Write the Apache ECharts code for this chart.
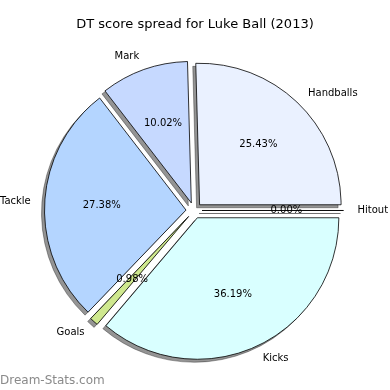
<!DOCTYPE html>
<html>
<head>
<meta charset="utf-8">
<script src="https://cdn.jsdelivr.net/npm/echarts@6/dist/echarts.min.js"></script>
<style>html,body{margin:0;padding:0;background:#fff}#c{width:390px;height:390px}</style>
</head>
<body>
<div id="c"></div>
<script>
const categories = ['Handballs', 'Hitout', 'Kicks', 'Goals', 'Tackle', 'Mark'];
const percents = [25.43, 0.00, 36.19, 0.98, 27.38, 10.02];
const colors = ['#eaf1ff', '#d6f7ff', '#d9ffff', '#cfe88e', '#b4d5ff', '#c6d9ff'];

const chart = echarts.init(document.getElementById('c'), null, {renderer: 'canvas'});
const CX = 194, CY = 210.5, R = 141.5, OFF = 8, START = 91.55;
const font = 'DejaVu Sans';

const pieData = categories.map((n, i) => ({
  name: n, value: percents[i], selected: true,
  itemStyle: {color: colors[i]}
}));
const plainData = categories.map((n, i) => ({
  name: n, value: percents[i], selected: true
}));

const common = {
  type: 'pie', startAngle: START, clockwise: true,
  selectedMode: 'multiple', selectedOffset: OFF,
  avoidLabelOverlap: false, silent: true,
  emphasis: {disabled: true}
};

chart.setOption({
  animation: false,
  backgroundColor: '#fff',
  title: {
    text: 'DT score spread for Luke Ball (2013)',
    left: 'center', top: 18, padding: 0,
    textStyle: {fontFamily: font, fontSize: 13, fontWeight: 'normal', color: '#000'}
  },
  graphic: [{
    type: 'text', left: 0, top: 375,
    style: {text: 'Dream-Stats.com', fontFamily: font, fontSize: 12, fontWeight: 'normal', fill: '#8a8a8a'}
  }],
  series: [
    Object.assign({}, common, {
      name: 'shadow',
      center: [CX - 3, CY + 3], radius: [0, R],
      itemStyle: {color: 'rgba(0,0,0,0.42)', borderColor: 'rgba(0,0,0,0.42)', borderWidth: 0.8},
      label: {show: false}, labelLine: {show: false},
      data: plainData
    }),
    Object.assign({}, common, {
      name: 'main',
      center: [CX, CY], radius: [0, R],
      itemStyle: {borderColor: '#000', borderWidth: 0.8},
      label: {
        show: true, position: 'outside',
        formatter: '{b}', fontFamily: font, fontSize: 10, color: '#000',
        distanceToLabelLine: 0, padding: [2, 0, 0, 0]
      },
      labelLine: {show: false, length: 14, length2: 0},
      data: pieData
    }),
    Object.assign({}, common, {
      name: 'pct',
      center: [CX, CY], radius: [0, R * 1.15],
      itemStyle: {color: 'rgba(0,0,0,0)', borderWidth: 0},
      label: {
        show: true, position: 'inside',
        formatter: p => p.value.toFixed(2) + '%',
        fontFamily: font, fontSize: 10, color: '#000',
        padding: [2, 0, 0, 0]
      },
      labelLine: {show: false},
      data: plainData
    })
  ]
});
</script>
</body>
</html>
